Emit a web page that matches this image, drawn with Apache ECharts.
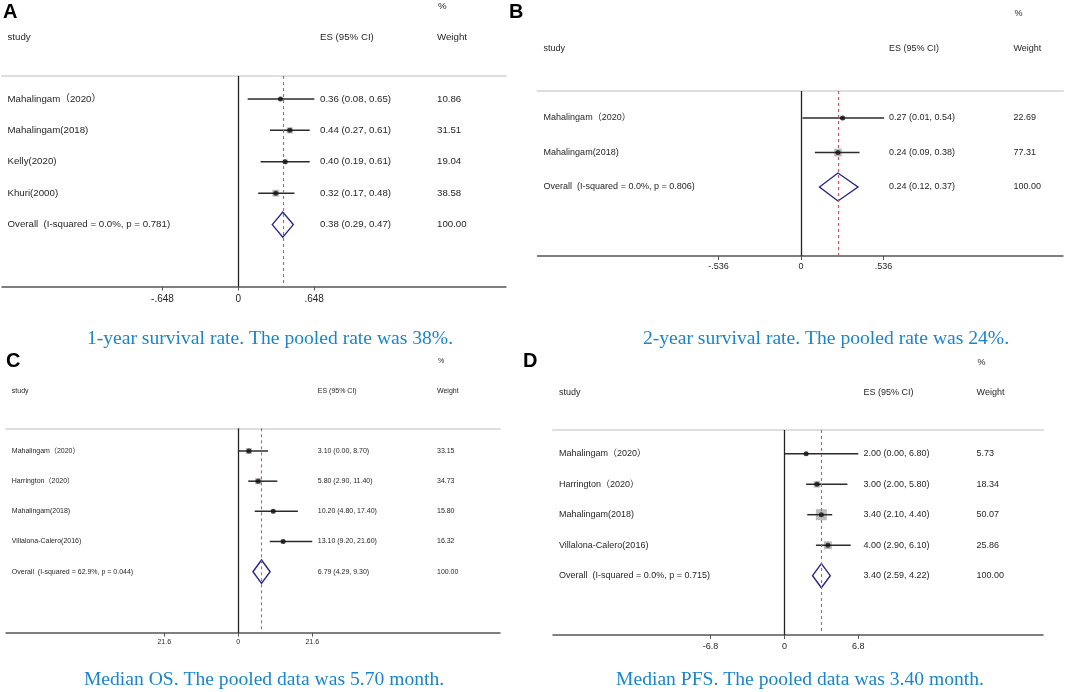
<!DOCTYPE html>
<html>
<head>
<meta charset="utf-8">
<script src="https://cdn.jsdelivr.net/npm/echarts@6/dist/echarts.min.js"></script>
<style>
html,body{margin:0;padding:0;background:#fff;}
#chart{width:1065px;height:692px;}
</style>
</head>
<body>
<div id="chart"></div>
<script>
// ---------- Panel A: 1-year survival rate ----------
const A_studies = ['Mahalingam（2020）', 'Mahalingam(2018)', 'Kelly(2020)', 'Khuri(2000)', 'Overall  (I-squared = 0.0%, p = 0.781)'];
const A_es = [0.36, 0.44, 0.40, 0.32];
const A_lo = [0.08, 0.27, 0.19, 0.17];
const A_hi = [0.65, 0.61, 0.61, 0.48];
const A_weight = [10.86, 31.51, 19.04, 38.58];
const A_pooled = [0.38, 0.29, 0.47];
const A_ciText = ['0.36 (0.08, 0.65)', '0.44 (0.27, 0.61)', '0.40 (0.19, 0.61)', '0.32 (0.17, 0.48)', '0.38 (0.29, 0.47)'];
const A_weightText = ['10.86', '31.51', '19.04', '38.58', '100.00'];
const A_ticks = [-0.648, 0, 0.648];
const A_tickLabels = ['-.648', '0', '.648'];
const A_caption = '1-year survival rate. The pooled rate was 38%.';

// ---------- Panel B: 2-year survival rate ----------
const B_studies = ['Mahalingam（2020）', 'Mahalingam(2018)', 'Overall  (I-squared = 0.0%, p = 0.806)'];
const B_es = [0.27, 0.24];
const B_lo = [0.01, 0.09];
const B_hi = [0.54, 0.38];
const B_weight = [22.69, 77.31];
const B_pooled = [0.24, 0.12, 0.37];
const B_ciText = ['0.27 (0.01, 0.54)', '0.24 (0.09, 0.38)', '0.24 (0.12, 0.37)'];
const B_weightText = ['22.69', '77.31', '100.00'];
const B_ticks = [-0.536, 0, 0.536];
const B_tickLabels = ['-.536', '0', '.536'];
const B_caption = '2-year survival rate. The pooled rate was 24%.';

// ---------- Panel C: Median OS ----------
const C_studies = ['Mahalingam（2020）', 'Harrington（2020）', 'Mahalingam(2018)', 'Villalona-Calero(2016)', 'Overall  (I-squared = 62.9%, p = 0.044)'];
const C_es = [3.10, 5.80, 10.20, 13.10];
const C_lo = [0.00, 2.90, 4.80, 9.20];
const C_hi = [8.70, 11.40, 17.40, 21.60];
const C_weight = [33.15, 34.73, 15.80, 16.32];
const C_pooled = [6.79, 4.29, 9.30];
const C_ciText = ['3.10 (0.00, 8.70)', '5.80 (2.90, 11.40)', '10.20 (4.80, 17.40)', '13.10 (9.20, 21.60)', '6.79 (4.29, 9.30)'];
const C_weightText = ['33.15', '34.73', '15.80', '16.32', '100.00'];
const C_ticks = [-21.6, 0, 21.6];
const C_tickLabels = ['21.6', '0', '21.6'];
const C_caption = 'Median OS. The pooled data was 5.70 month.';

// ---------- Panel D: Median PFS ----------
const D_studies = ['Mahalingam（2020）', 'Harrington（2020）', 'Mahalingam(2018)', 'Villalona-Calero(2016)', 'Overall  (I-squared = 0.0%, p = 0.715)'];
const D_es = [2.00, 3.00, 3.40, 4.00];
const D_lo = [0.00, 2.00, 2.10, 2.90];
const D_hi = [6.80, 5.80, 4.40, 6.10];
const D_weight = [5.73, 18.34, 50.07, 25.86];
const D_pooled = [3.40, 2.59, 4.22];
const D_ciText = ['2.00 (0.00, 6.80)', '3.00 (2.00, 5.80)', '3.40 (2.10, 4.40)', '4.00 (2.90, 6.10)', '3.40 (2.59, 4.22)'];
const D_weightText = ['5.73', '18.34', '50.07', '25.86', '100.00'];
const D_ticks = [-6.8, 0, 6.8];
const D_tickLabels = ['-6.8', '0', '6.8'];
const D_caption = 'Median PFS. The pooled data was 3.40 month.';

const headers = ['study', 'ES (95% CI)', 'Weight', '%'];
const letters = ['A', 'B', 'C', 'D'];

// ---------- layout / style (not data) ----------
const panels = [
  { d: {studies: A_studies, es: A_es, lo: A_lo, hi: A_hi, w: A_weight, pooled: A_pooled, ci: A_ciText, wt: A_weightText, ticks: A_ticks, tickLabels: A_tickLabels, caption: A_caption},
    L: {left: 2, top: 76, width: 504, height: 210.5, xMin: -2.02, xMax: 2.288, yMin: 0.27, yMax: 6.97,
        nameX: 7.5, esX: 320, wX: 437, headY: 37, pctY: 6, font: 9.7, tickFont: 10, tickMargin: 8,
        letterX: 3, letterY: 12.5, box: 1.1, dia: 12.5, capX: 270, capY: 339} },
  { d: {studies: B_studies, es: B_es, lo: B_lo, hi: B_hi, w: B_weight, pooled: B_pooled, ci: B_ciText, wt: B_weightText, ticks: B_ticks, tickLabels: B_tickLabels, caption: B_caption},
    L: {left: 537.5, top: 91, width: 525.5, height: 165, xMin: -1.712, xMax: 1.702, yMin: 0.217, yMax: 5.0,
        nameX: 543.6, esX: 889, wX: 1013.5, headY: 49, pctY: 14, font: 9, tickFont: 9, tickMargin: 6,
        letterX: 509, letterY: 12.5, box: 0.88, dia: 14, capX: 826, capY: 339} },
  { d: {studies: C_studies, es: C_es, lo: C_lo, hi: C_hi, w: C_weight, pooled: C_pooled, ci: C_ciText, wt: C_weightText, ticks: C_ticks, tickLabels: C_tickLabels, caption: C_caption},
    L: {left: 6, top: 428.3, width: 494, height: 204.4, xMin: -67.8, xMax: 76.4, yMin: 0.248, yMax: 7.02,
        nameX: 11.8, esX: 317.8, wX: 437, headY: 390.7, pctY: 361, font: 7, tickFont: 7, tickMargin: 6,
        letterX: 6, letterY: 361.5, box: 1.05, dia: 11.7, capX: 264, capY: 680} },
  { d: {studies: D_studies, es: D_es, lo: D_lo, hi: D_hi, w: D_weight, pooled: D_pooled, ci: D_ciText, wt: D_weightText, ticks: D_ticks, tickLabels: D_tickLabels, caption: D_caption},
    L: {left: 553, top: 430, width: 490, height: 205, xMin: -21.3, xMax: 23.8, yMin: 0.223, yMax: 6.944,
        nameX: 559, esX: 863.4, wX: 976.6, headY: 392.7, pctY: 363, font: 9, tickFont: 9, tickMargin: 7,
        letterX: 523, letterY: 361.5, box: 1.555, dia: 12, capX: 800, capY: 680} }
];

const FONT = "'Liberation Sans', Arial, 'Noto Sans CJK SC', sans-serif";
const TEXT = '#262626';

const option = {
  animation: false,
  backgroundColor: '#fff',
  grid: [], xAxis: [], yAxis: [], series: [], graphic: []
};

panels.forEach((p, i) => {
  const d = p.d, L = p.L;
  const rows = d.studies.map((_, k) => k + 1);
  option.grid.push({left: L.left, top: L.top, width: L.width, height: L.height, containLabel: false});
  // bottom axis
  option.xAxis.push({
    gridIndex: i, type: 'value', min: L.xMin, max: L.xMax, position: 'bottom',
    axisLine: {show: true, onZero: false, lineStyle: {color: '#555', width: 1.5}},
    axisTick: {show: true, customValues: d.ticks, length: 4, lineStyle: {color: '#555', width: 1}},
    axisLabel: {customValues: d.ticks, margin: L.tickMargin, fontFamily: FONT, fontSize: L.tickFont, color: TEXT,
      formatter: v => { const k = d.ticks.findIndex(t => Math.abs(t - v) < 1e-6); return k >= 0 ? d.tickLabels[k] : ''; }},
    splitLine: {show: false}
  });
  // top rule line
  option.xAxis.push({
    gridIndex: i, type: 'value', min: L.xMin, max: L.xMax, position: 'top',
    axisLine: {show: true, onZero: false, lineStyle: {color: '#dedede', width: 2}},
    axisTick: {show: false}, axisLabel: {show: false}, splitLine: {show: false}
  });
  const mkY = (texts, x) => ({
    gridIndex: i, type: 'value', min: L.yMin, max: L.yMax, inverse: true, position: 'left',
    offset: -(x - L.left),
    axisLine: {show: false}, axisTick: {show: false}, splitLine: {show: false},
    axisLabel: {show: true, inside: true, margin: 0, align: 'left', customValues: rows,
      fontFamily: FONT, fontSize: L.font, color: TEXT,
      formatter: v => { const k = Math.round(v) - 1; return texts[k] !== undefined ? texts[k] : ''; }}
  });
  option.yAxis.push(mkY(d.studies, L.nameX));
  option.yAxis.push(mkY(d.ci, L.esX));
  option.yAxis.push(mkY(d.wt, L.wX));

  const xi = 2 * i, yi = 3 * i;
  const nStudy = d.es.length;
  const overallRow = nStudy + 1;

  // weight boxes
  option.series.push({
    type: 'custom', xAxisIndex: xi, yAxisIndex: yi, z: 2,
    data: d.es.map((e, k) => [e, k + 1, d.w[k]]),
    renderItem: (params, api) => {
      const c = api.coord([api.value(0), api.value(1)]);
      const s = L.box * Math.sqrt(api.value(2));
      return {type: 'rect', shape: {x: c[0] - s / 2, y: c[1] - s / 2, width: s, height: s}, style: {fill: '#bcbcbc'}};
    }
  });
  // CI lines
  option.series.push({
    type: 'custom', xAxisIndex: xi, yAxisIndex: yi, z: 3,
    data: d.es.map((e, k) => [d.lo[k], d.hi[k], k + 1]),
    renderItem: (params, api) => {
      const a = api.coord([api.value(0), api.value(2)]);
      const b = api.coord([api.value(1), api.value(2)]);
      return {type: 'line', shape: {x1: a[0], y1: a[1], x2: b[0], y2: b[1]}, style: {stroke: '#2b2b2b', lineWidth: 1.5}};
    }
  });
  // pooled diamond
  option.series.push({
    type: 'custom', xAxisIndex: xi, yAxisIndex: yi, z: 4,
    data: [[d.pooled[0], d.pooled[1], d.pooled[2], overallRow]],
    renderItem: (params, api) => {
      const c = api.coord([api.value(0), api.value(3)]);
      const l = api.coord([api.value(1), api.value(3)]);
      const r = api.coord([api.value(2), api.value(3)]);
      const h = L.dia;
      return {type: 'polygon', shape: {points: [[l[0], c[1]], [c[0], c[1] - h], [r[0], c[1]], [c[0], c[1] + h]]},
        style: {fill: 'none', stroke: '#262686', lineWidth: 1.4}};
    }
  });
  // point estimates + reference lines
  option.series.push({
    type: 'scatter', xAxisIndex: xi, yAxisIndex: yi, z: 5,
    symbol: 'circle', symbolSize: 5, itemStyle: {color: '#111'},
    data: d.es.map((e, k) => [e, k + 1]),
    markLine: {
      silent: true, symbol: ['none', 'none'], label: {show: false}, animation: false,
      data: [
        {xAxis: 0, lineStyle: {color: '#222', width: 1.3, type: 'solid'}},
        {xAxis: d.pooled[0], lineStyle: {color: '#d9506a', width: 1.1, type: [3, 3]}}
      ]
    }
  });

  // headers, letter, caption
  const hs = {fontFamily: FONT, fontSize: L.font, fill: TEXT, verticalAlign: 'middle', align: 'left'};
  option.graphic.push({type: 'text', x: L.nameX, y: L.headY, style: Object.assign({text: headers[0]}, hs)});
  option.graphic.push({type: 'text', x: L.esX, y: L.headY, style: Object.assign({text: headers[1]}, hs)});
  option.graphic.push({type: 'text', x: L.wX, y: L.headY, style: Object.assign({text: headers[2]}, hs)});
  option.graphic.push({type: 'text', x: L.wX + 1, y: L.pctY, style: Object.assign({text: headers[3]}, hs)});
  option.graphic.push({type: 'text', x: L.letterX, y: L.letterY,
    style: {text: letters[i], fontFamily: FONT, fontSize: 20, fontWeight: 'bold', fill: '#000', verticalAlign: 'middle', align: 'left'}});
  option.graphic.push({type: 'text', x: L.capX, y: L.capY,
    style: {text: d.caption, fontFamily: "'Liberation Serif', 'Times New Roman', serif", fontSize: 19.6, fill: '#1a85c8', verticalAlign: 'middle', align: 'center'}});
});

const chart = echarts.init(document.getElementById('chart'), null, {renderer: 'canvas'});
chart.setOption(option);
</script>
</body>
</html>
